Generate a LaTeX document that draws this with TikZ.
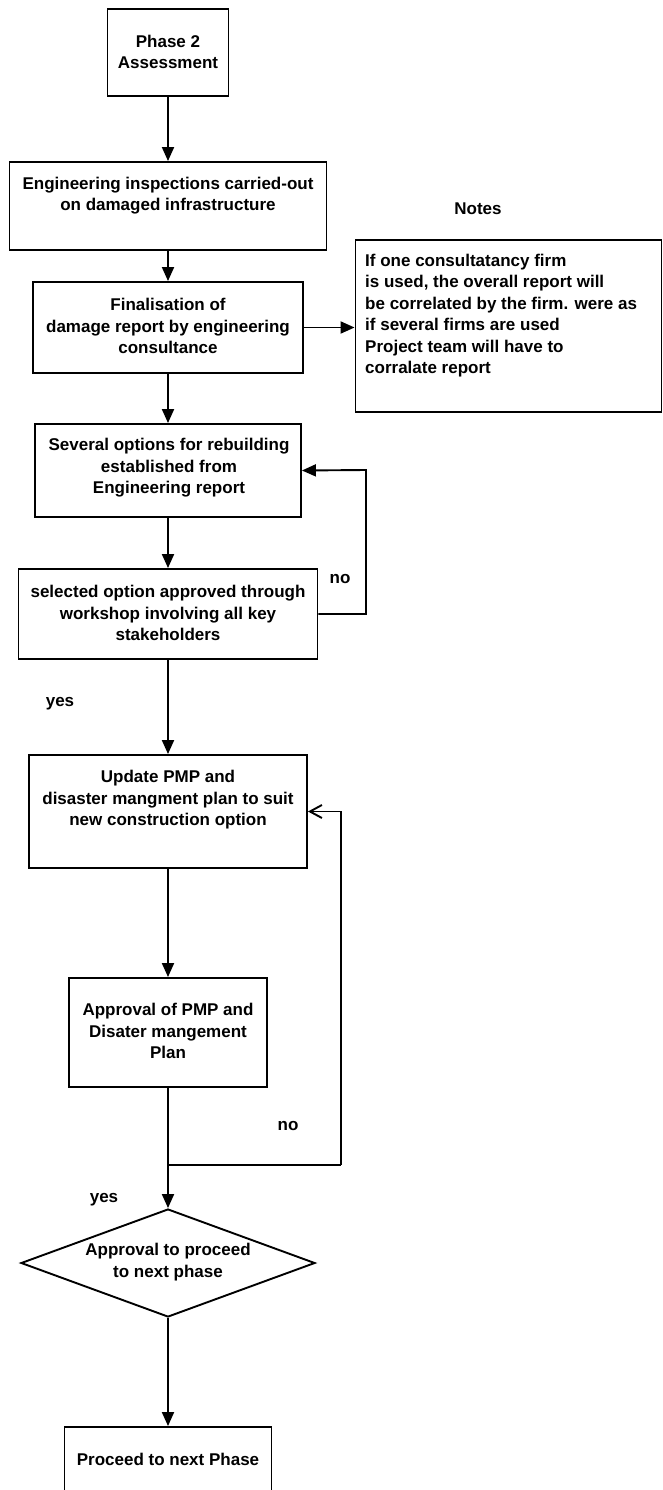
\documentclass[tikz,border=0pt]{standalone}
\usepackage{fontspec}
\setmainfont{Liberation Sans}
\usetikzlibrary{arrows.meta,shapes.geometric}

\tikzset{
  box/.style={draw=black, line width=1.9pt, fill=white, rectangle, inner sep=0pt},
  decision/.style={draw=black, line width=1.9pt, fill=white, diamond, inner sep=0pt},
  txt/.style={align=center, inner sep=0pt, font=\fontsize{17}{21.5}\selectfont\bfseries},
  lbl/.style={inner sep=0pt, font=\fontsize{17}{20}\selectfont\bfseries},
  flow/.style={line width=1.9pt, -{Triangle[length=14pt,width=12pt]}},
  plain/.style={line width=1.9pt},
  back/.style={line width=1.9pt, -{Straight Barb[length=12pt,width=13pt]}}
}

\begin{document}
\begin{tikzpicture}[x=1pt,y=-1pt]
\clip (0,0) rectangle (662,1490);
\fill[white] (0,0) rectangle (662,1490);

% boxes
\node[box, minimum width=121pt, minimum height=87pt] (phase) at (168,52.5) {};
\node[box, minimum width=317pt, minimum height=88pt] (eng) at (168,206) {};
\node[box, minimum width=270pt, minimum height=91pt] (fin) at (168,327.5) {};
\node[box, minimum width=306pt, minimum height=172pt] (notes) at (508.5,326) {};
\node[box, minimum width=266pt, minimum height=93pt] (several) at (168,470.5) {};
\node[box, minimum width=299pt, minimum height=90pt] (selected) at (168,614) {};
\node[box, minimum width=278pt, minimum height=113pt] (update) at (168,811.5) {};
\node[box, minimum width=198pt, minimum height=109pt] (approval) at (168,1032.5) {};
\node[decision, minimum width=294pt, minimum height=108pt] (decide) at (168,1263) {};
\node[box, minimum width=207pt, minimum height=90pt] (final) at (168,1472) {};

% texts
\node[txt] (phase-t) at (168,52) {Phase 2\\Assessment};
\node[txt] (eng-t) at (168,195.5) {Engineering inspections carried-out\\on damaged infrastructure};
\node[txt] (fin-t) at (168,326) {Finalisation of\\damage report by engineering\\consultance};
\node[txt, align=left, anchor=west] (notes-t) at (365,315.5) {If one consultatancy firm\\is used, the overall report will\\be correlated by the firm. were as\\if several firms are used\\Project team will have to\\corralate report};
\node[txt] (several-t) at (169,468) {Several options for rebuilding\\established from\\Engineering report};
\node[txt] (selected-t) at (168,613) {selected option approved through\\workshop involving all key\\stakeholders};
\node[txt] (update-t) at (168,800) {Update PMP and\\disaster mangment plan to suit\\new construction option};
\node[txt] (approval-t) at (168,1031) {Approval of PMP and\\Disater mangement\\Plan};
\node[txt] (decide-t) at (168,1262) {Approval to proceed\\to next phase};
\node[txt] (final-t) at (168,1459) {Proceed to next Phase};

% labels
\node[lbl] (notes-head) at (478,209) {Notes};
\node[lbl] (no1) at (340,579) {no};
\node[lbl] (yes1) at (60,704) {yes};
\node[lbl] (no2) at (288,1126) {no};
\node[lbl] (yes2) at (104,1200) {yes};

% routing points
\coordinate (loopA) at (366,470);
\coordinate (join) at (168,1165);
\coordinate (loopB) at (341,1165);

% main flow
\draw[flow] (phase.south) -- (eng.north);
\draw[flow] (eng.south) -- (fin.north);
\draw[flow] (fin.east) -- (fin.east -| notes.west);
\draw[flow] (fin.south) -- (several.north);
\draw[flow] (several.south) -- (selected.north);
\draw[flow] (selected.south) -- (update.north);
\draw[flow] (update.south) -- (approval.north);
\draw[flow] (approval.south) -- (decide.north);
\draw[flow] (decide.south) -- (final.north);

% feedback loops
\draw[flow] (selected.east) -| (loopA) -- (several.east);
\draw[plain] (join) -- (loopB);
\draw[back] (loopB) |- (update.east);
\end{tikzpicture}
\end{document}
